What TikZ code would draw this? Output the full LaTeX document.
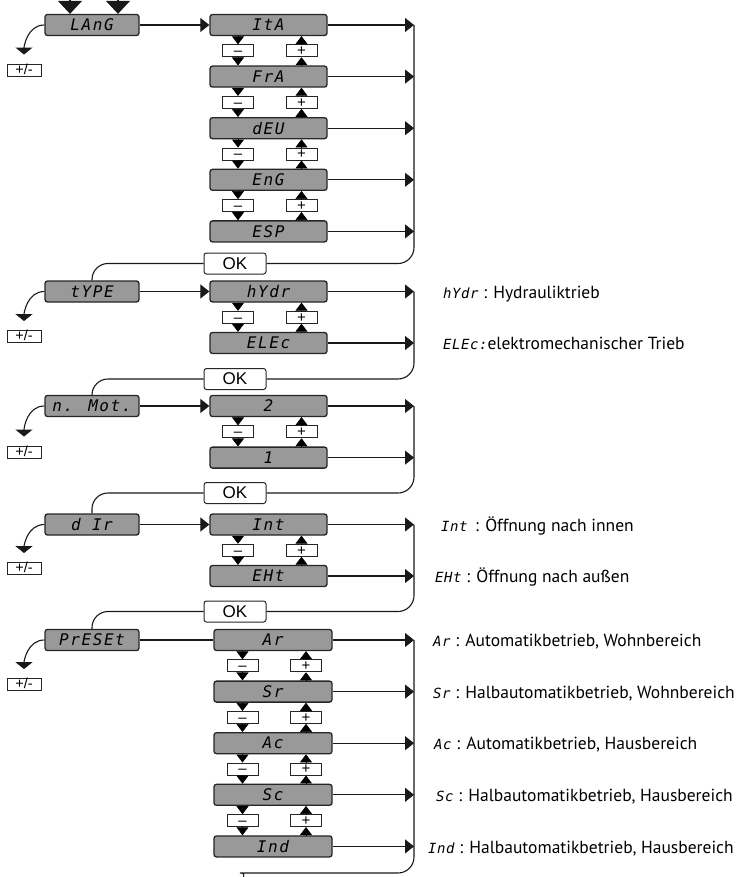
\documentclass[tikz,border=0pt]{standalone}
\usepackage{fontspec}
\setmainfont{Liberation Sans}
\newfontfamily\seg[LetterSpace=10]{DejaVu Sans Mono}
\newfontfamily\segs[LetterSpace=4]{DejaVu Sans Mono}
\newfontfamily\lab{PT Sans}
\usetikzlibrary{arrows.meta,calc}
\tikzset{
  disp/.style={draw=black!85, line width=1.3pt, fill=black!40, rounded corners=2.5pt,
    minimum height=21pt, inner sep=0pt, font=\seg\itshape\fontsize{16}{16}\selectfont},
  lbox/.style={disp, minimum width=94pt},
  mbox/.style={disp, minimum width=117pt},
  okbox/.style={draw=black!85, line width=1pt, fill=white, rounded corners=2.5pt,
    minimum width=62pt, minimum height=21pt, inner sep=0pt, font=\fontsize{17}{17}\selectfont},
  btn/.style={draw=black!85, line width=0.9pt, fill=white, minimum width=31pt,
    minimum height=12pt, inner sep=0pt, text height=9.5pt, text depth=0pt,
    font=\fontsize{15}{12}\selectfont},
  pmbtn/.style={draw=black!85, line width=0.9pt, minimum width=34pt, minimum height=12pt,
    inner sep=0pt, text height=9pt, text depth=0.5pt, font=\fontsize{14.5}{12}\selectfont},
  con/.style={line width=1.1pt, draw=black!90},
  arr/.style={con, -{Triangle[length=9pt,width=14pt]}},
  tri/.style={line width=0.6pt, -{Triangle[length=8pt,width=12pt]}},
  curarr/.style={con, -{Triangle[length=7pt,width=17pt]}},
  toparr/.style={con, -{Triangle[length=13pt,width=24pt]}},
  loop/.style={con, rounded corners=16pt},
  desc/.style={anchor=base west, inner sep=0pt, font=\lab\fontsize{17.5}{20}\selectfont},
}
\newcommand\segtxt[1]{{\segs\itshape\fontsize{14}{14}\selectfont #1}}
\newcommand\PMbuttons[3]{%
  \path ($(#1)!0.5!(#2)$) coordinate (c#3);
  \node[btn] (mi#3) at ([xshift=-30.5pt]c#3) {–};
  \node[btn] (pl#3) at ([xshift=33pt]c#3) {+};
  \draw[tri] (#1.south -| mi#3) -- (mi#3.north);
  \draw[tri] (mi#3.south) -- (#2.north -| mi#3);
  \draw[tri] (#2.north -| pl#3) -- (pl#3.south);
  \draw[tri] (pl#3.north) -- (#1.south -| pl#3);
}
\begin{document}
\begin{tikzpicture}[x=1pt,y=-1pt]
\fill[white] (0,0) rectangle (750,877);
\useasboundingbox (0,0) rectangle (750,877);
\coordinate (vx) at (414,0);
\coordinate (t1) at (70,-3);
\coordinate (t2) at (118,-3);

% ---- group 1
\node[lbox] (lang) at (92,25) {LAnG};
\node[mbox] (ita) at (268.5,25) {ItA};
\node[mbox] (fra) at (268.5,76.6) {FrA};
\node[mbox] (deu) at (268.5,128.2) {dEU};
\node[mbox] (eng) at (268.5,179.8) {EnG};
\node[mbox] (esp) at (268.5,231.4) {ESP};
\node[okbox] (ok1) at (235,263.5) {OK};
\node[pmbtn] (pm1) at (24,70) {+/-};

% ---- group 2
\node[lbox] (type) at (92,291.5) {tYPE};
\node[mbox] (hydr) at (268.5,291.5) {hYdr};
\node[mbox] (elec) at (268.5,343) {ELEc};
\node[okbox] (ok2) at (235,379) {OK};
\node[pmbtn] (pm2) at (24,336.5) {+/-};

% ---- group 3
\node[lbox] (nmot) at (92,406) {n. Mot.};
\node[mbox] (two) at (268.5,406) {2};
\node[mbox] (one) at (268.5,457.6) {1};
\node[okbox] (ok3) at (235,493) {OK};
\node[pmbtn] (pm3) at (24,452) {+/-};

% ---- group 4
\node[lbox] (dir) at (92,524.5) {d Ir};
\node[mbox] (int) at (268.5,524.5) {Int};
\node[mbox] (eht) at (268.5,576) {EHt};
\node[okbox] (ok4) at (235,611.5) {OK};
\node[pmbtn] (pm4) at (24,568.5) {+/-};

% ---- group 5
\node[lbox] (preset) at (92,640) {PrESEt};
\node[mbox, minimum width=118pt] (ar) at (273,640) {Ar};
\node[mbox, minimum width=118pt] (sr) at (273,691.6) {Sr};
\node[mbox, minimum width=118pt] (ac) at (273,743.2) {Ac};
\node[mbox, minimum width=118pt] (sc) at (273,794.8) {Sc};
\node[mbox, minimum width=118pt] (ind) at (273,846.4) {Ind};
\node[pmbtn] (pm5) at (24,684.5) {+/-};

% ---- +/- buttons between displays
\PMbuttons{ita}{fra}{1}
\PMbuttons{fra}{deu}{2}
\PMbuttons{deu}{eng}{3}
\PMbuttons{eng}{esp}{4}
\PMbuttons{hydr}{elec}{5}
\PMbuttons{two}{one}{6}
\PMbuttons{int}{eht}{7}
\PMbuttons{ar}{sr}{8}
\PMbuttons{sr}{ac}{9}
\PMbuttons{ac}{sc}{10}
\PMbuttons{sc}{ind}{11}

% ---- top entry arrows
\draw[toparr] (t1) -- (t1 |- lang.north);
\draw[toparr] (t2) -- (t2 |- lang.north);

% ---- left curved arrows to +/-
\foreach \b/\p in {lang/pm1, type/pm2, nmot/pm3, dir/pm4, preset/pm5}{
  \draw[curarr, shorten >=9pt] (\b.west) to[out=180,in=90] (\p.north);
}

% ---- entry connectors
\draw[arr] (lang.east) -- (ita.west);
\draw[arr] (type.east) -- (hydr.west);
\draw[arr] (nmot.east) -- (two.west);
\draw[arr] (dir.east) -- (int.west);
\draw[con] (preset.east) -- (ar.west);

% ---- right arrows
\foreach \b in {ita,fra,deu,eng,esp,hydr,elec,two,one,int,eht,ar,sr,ac,sc,ind}{
  \draw[arr] (\b.east) -- (\b.east -| vx);
}

% ---- return loops
\draw[loop] (ita.east -| vx) |- (ok1.east);
\draw[loop] (hydr.east -| vx) |- (ok2.east);
\draw[loop] (two.east -| vx) |- (ok3.east);
\draw[loop] (int.east -| vx) |- (ok4.east);
\coordinate (bend) at (256,873);
\coordinate (offp) at (241,886);
\draw[loop] (ar.east -| vx) |- (bend) to[out=180,in=90] (offp);

\draw[loop] (ok1.west) -| (type.north);
\draw[loop] (ok2.west) -| (nmot.north);
\draw[loop] (ok3.west) -| (dir.north);
\draw[loop] (ok4.west) -| (preset.north);

% ---- descriptions
\node[desc] (dhydr) at (443,298) {\segtxt{hYdr} : Hydrauliktrieb};
\node[desc] (delec) at (443,349.5) {\segtxt{ELEc:}elektromechanischer Trieb};
\node[desc] (dint) at (441,531) {\segtxt{Int}\ \,: Öffnung nach innen};
\node[desc] (deht) at (435,582.5) {\segtxt{EHt} : Öffnung nach außen};
\node[desc] (dar) at (433,646.5) {\segtxt{Ar} : Automatikbetrieb, Wohnbereich};
\node[desc] (dsr) at (433,698) {\segtxt{Sr} : Halbautomatikbetrieb, Wohnbereich};
\node[desc] (dac) at (434,749.5) {\segtxt{Ac} : Automatikbetrieb, Hausbereich};
\node[desc] (dsc) at (436,801) {\segtxt{Sc} : Halbautomatikbetrieb, Hausbereich};
\node[desc] (dind) at (428,853) {\segtxt{Ind} : Halbautomatikbetrieb, Hausbereich};
\end{tikzpicture}
\end{document}
